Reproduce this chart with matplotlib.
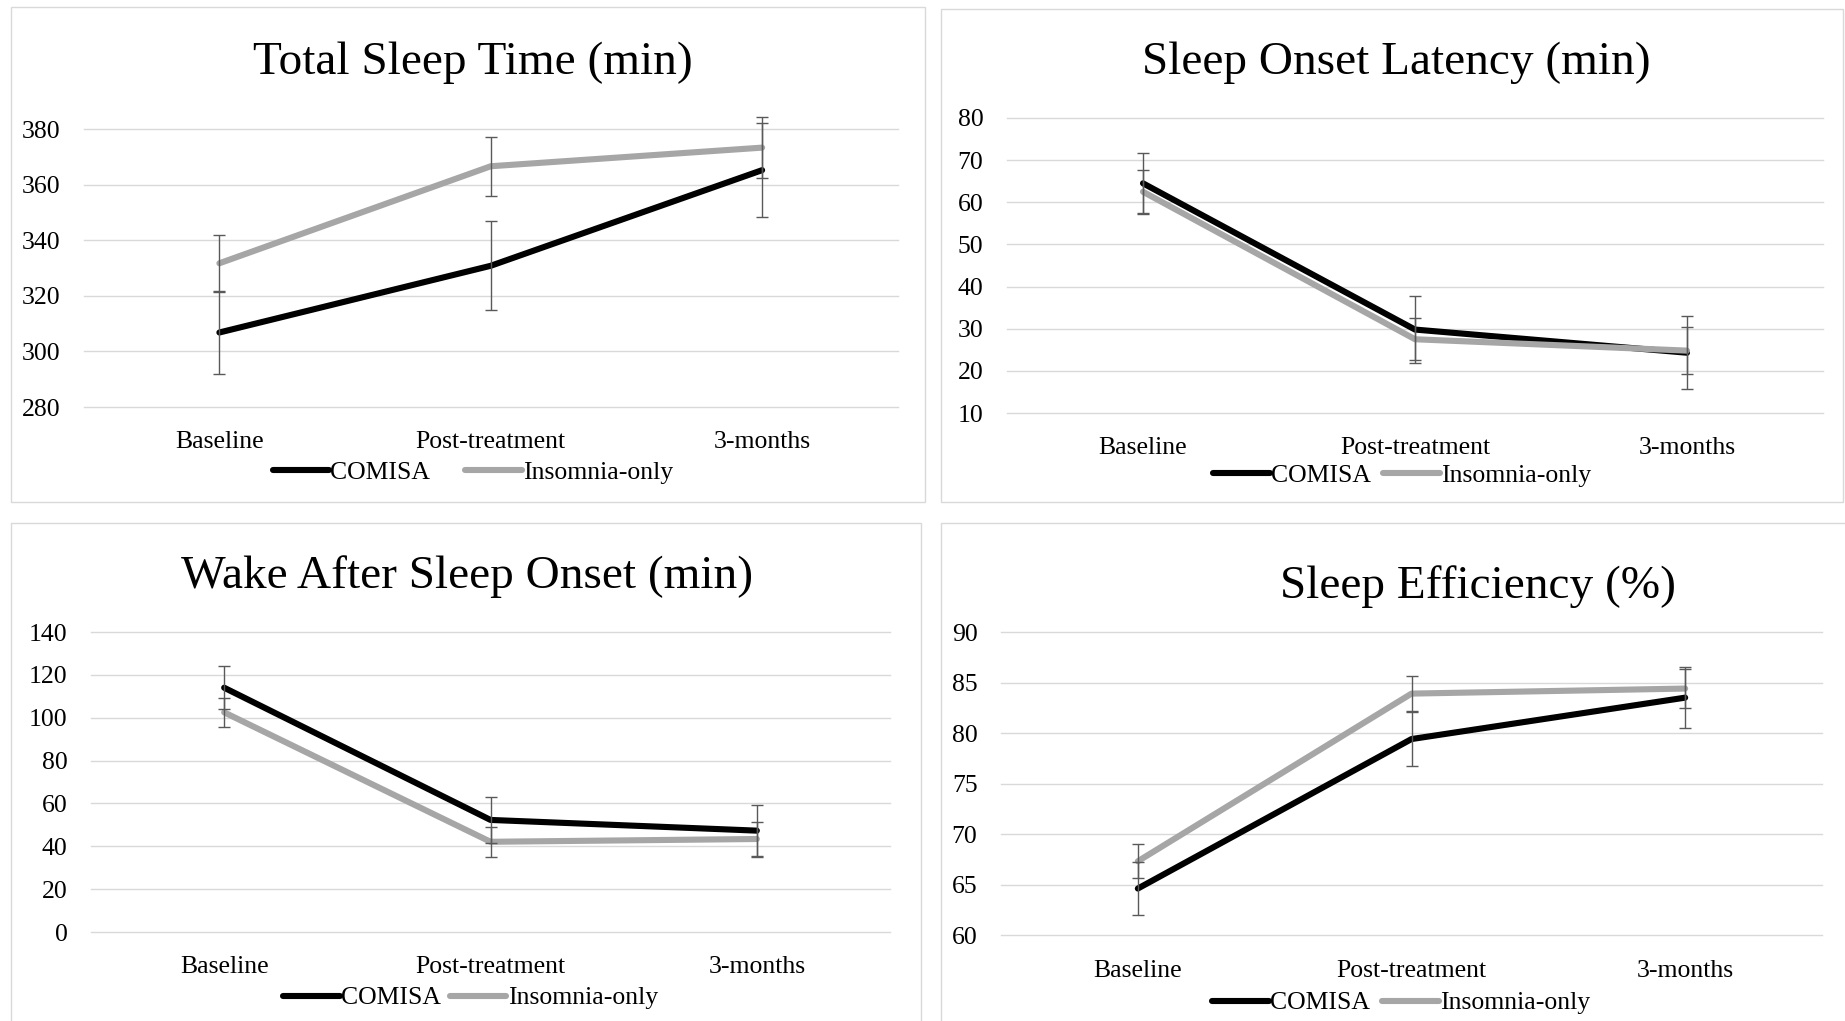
import matplotlib
matplotlib.use("Agg")
import matplotlib.pyplot as plt
from matplotlib.patches import Rectangle

plt.rcParams['font.family'] = ['Liberation Serif', 'DejaVu Serif']

categories = ['Baseline', 'Post-treatment', '3-months']
series_names = ['COMISA', 'Insomnia-only']

tst_comisa = [306.8, 330.8, 365.2]
tst_comisa_err = [15.0, 16.0, 17.0]
tst_insom = [331.7, 366.6, 373.3]
tst_insom_err = [10.2, 10.6, 11.1]

sol_comisa = [64.5, 29.8, 24.3]
sol_comisa_err = [7.2, 8.0, 8.6]
sol_insom = [62.5, 27.5, 24.8]
sol_insom_err = [5.1, 5.0, 5.5]

waso_comisa = [114.0, 52.3, 47.3]
waso_comisa_err = [10.0, 10.8, 12.1]
waso_insom = [102.5, 42.1, 43.4]
waso_insom_err = [6.8, 7.0, 7.8]

se_comisa = [64.6, 79.4, 83.5]
se_comisa_err = [2.6, 2.7, 3.0]
se_insom = [67.3, 83.9, 84.4]
se_insom_err = [1.7, 1.7, 1.9]

W, H = 1845, 1021
fig = plt.figure(figsize=(W / 100, H / 100), dpi=100)

BLACK = '#000000'
GRAY = '#A6A6A6'
ERR = '#595959'
GRID = '#D9D9D9'
TICK_FS = 18.5
TITLE_FS = 34


def fx(x):
    return x / W


def fy(y):
    return 1 - y / H


# panel borders
for (x0, y0, x1, y1) in [(11, 7, 925, 502), (941, 9, 1843, 502),
                         (11, 523, 921, 1025), (941, 523, 1849, 1025)]:
    fig.patches.append(Rectangle((fx(x0), fy(y1)), fx(x1 - x0), (y1 - y0) / H,
                                 transform=fig.transFigure, fill=False,
                                 edgecolor=GRID, linewidth=1.0, zorder=0))


def panel(box, ylim, ystep, title, title_xy, leg_xy, colsp, xpad,
          c_vals, c_err, i_vals, i_err):
    x0, x1, yt, yb = box
    ax = fig.add_axes([fx(x0), fy(yb), fx(x1 - x0), (yb - yt) / H])
    xs = list(range(len(categories)))
    ax.plot(xs, c_vals, color=BLACK, lw=4.4, label=series_names[0],
            solid_capstyle='round', solid_joinstyle='round', zorder=3)
    ax.errorbar(xs, c_vals, yerr=c_err, fmt='none', ecolor=ERR, elinewidth=1.0,
                capsize=4.3, capthick=1.0, zorder=4, clip_on=False)
    ax.plot(xs, i_vals, color=GRAY, lw=4.4, label=series_names[1],
            solid_capstyle='round', solid_joinstyle='round', zorder=3.5)
    ax.errorbar(xs, i_vals, yerr=i_err, fmt='none', ecolor=ERR, elinewidth=1.0,
                capsize=4.3, capthick=1.0, zorder=4, clip_on=False)
    ax.set_xlim(-0.5, len(categories) - 0.5)
    ax.set_ylim(*ylim)
    ticks = list(range(ylim[0], ylim[1] + 1, ystep))
    ax.set_yticks(ticks)
    ax.set_xticks(xs)
    ax.set_xticklabels(categories)
    for s in ax.spines.values():
        s.set_visible(False)
    ax.grid(axis='y', color=GRID, lw=1.0)
    ax.set_axisbelow(True)
    ax.tick_params(axis='y', length=0, pad=17, labelsize=TICK_FS)
    ax.tick_params(axis='x', length=0, pad=xpad, labelsize=TICK_FS)
    for line in ax.get_ygridlines():
        line.set_clip_on(False)
    fig.text(fx(title_xy[0]), fy(title_xy[1]), title, ha='center',
             va='baseline', fontsize=TITLE_FS)
    ax.legend(loc='center', bbox_to_anchor=(fx(leg_xy[0]), fy(leg_xy[1])),
              bbox_transform=fig.transFigure, ncol=2, frameon=False,
              fontsize=TICK_FS, handlelength=2.2, handletextpad=0.05,
              columnspacing=colsp, borderpad=0, borderaxespad=0)
    return ax


panel((83.7, 897.8, 129, 407), (280, 380), 20, 'Total Sleep Time (min)',
      (473, 73.5), (473, 473), 1.36, 17.5,
      tst_comisa, tst_comisa_err, tst_insom, tst_insom_err)
panel((1007, 1823, 118, 413), (10, 80), 10, 'Sleep Onset Latency (min)',
      (1396.5, 74), (1402, 476), 0.47, 17,
      sol_comisa, sol_comisa_err, sol_insom, sol_insom_err)
panel((91, 890, 632, 932), (0, 140), 20, 'Wake After Sleep Onset (min)',
      (467, 588), (470.5, 998), 0.35, 17.5,
      waso_comisa, waso_comisa_err, waso_insom, waso_insom_err)
panel((1001, 1822, 632, 935), (60, 90), 5, 'Sleep Efficiency (%)',
      (1478.5, 597.5), (1401, 1003), 0.47, 18,
      se_comisa, se_comisa_err, se_insom, se_insom_err)

fig.savefig('out.png', dpi=100, facecolor='white')
